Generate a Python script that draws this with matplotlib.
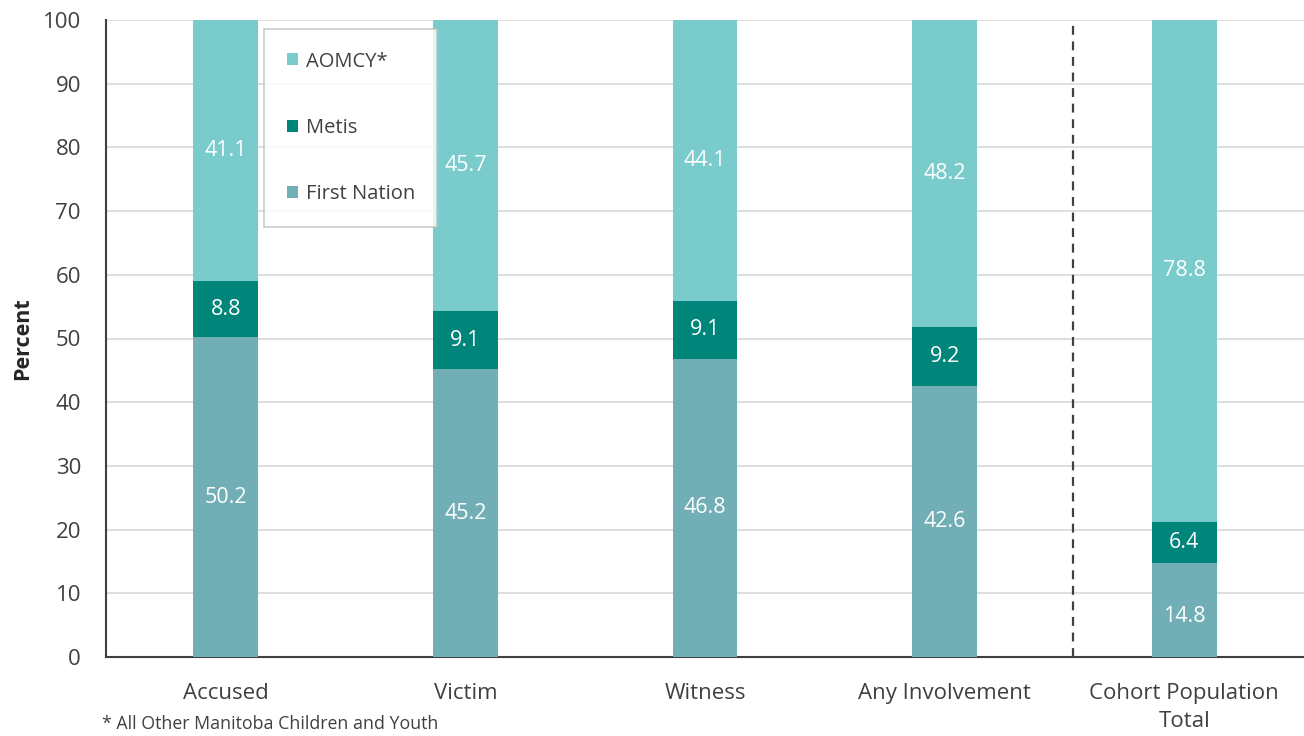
import numpy as np
import matplotlib
matplotlib.use("Agg")
from matplotlib import pyplot as plt

plt.rcParams['font.family'] = ['Open Sans', 'DejaVu Sans']

# categories and stacked shares (percent)
categories = ["Accused", "Victim", "Witness", "Any Involvement", "Cohort Population\nTotal"]
first_nation = [50.2, 45.2, 46.8, 42.6, 14.8]
metis = [8.8, 9.1, 9.1, 9.2, 6.4]
aomcy = [41.1, 45.7, 44.1, 48.2, 78.8]

COL_FN = "#72aeb6"
COL_METIS = "#00857a"
COL_AOMCY = "#7acccc"
TEXT = "#404040"

fig = plt.figure(figsize=(13.04, 7.36), dpi=100)
ax = fig.add_axes([106 / 1304, 1 - 657 / 736, 1 - 106 / 1304, 637 / 736])

x = np.arange(len(categories))
width = 0.27
fn = np.array(first_nation)
me = np.array(metis)
ao = np.array(aomcy)

b1 = ax.bar(x, fn, width, color=COL_FN, label="First Nation", zorder=3)
b2 = ax.bar(x, me, width, bottom=fn, color=COL_METIS, label="Metis", zorder=3)
b3 = ax.bar(x, ao, width, bottom=fn + me, color=COL_AOMCY, label="AOMCY*", zorder=3)

# value labels in each segment
for bars, vals, bottoms in [(b1, fn, np.zeros(len(fn))), (b2, me, fn), (b3, ao, fn + me)]:
    for xi, v, b in zip(x, vals, bottoms):
        y = b + v / 2
        if bars is b1 and v < 20:
            y = b + v / 2 - 1.0
        ax.text(xi, y, f"{v:.1f}", ha="center", va="center", color="white",
                fontsize=15.5, zorder=4)

ax.set_xlim(-0.5, 4.5)
ax.set_ylim(0, 100)
ax.set_yticks(np.arange(0, 101, 10))
ax.set_xticks(x)
ax.set_xticklabels(categories, linespacing=1.4)
ax.tick_params(axis="both", length=0, labelsize=16, colors=TEXT)
ax.tick_params(axis="x", pad=19)
ax.tick_params(axis="y", pad=18)
ax.grid(axis="y", color="#d9d9d9", linewidth=1.2, zorder=0)
ax.set_axisbelow(True)

for side in ["top", "right"]:
    ax.spines[side].set_visible(False)
for side in ["left", "bottom"]:
    ax.spines[side].set_color("#404040")
    ax.spines[side].set_linewidth(1.5)

ax.set_ylabel("Percent", fontsize=15.5, fontweight="bold", color="#262626", labelpad=7)

# divider before the population total
ax.axvline(3.535, color="#404040", linestyle=(0, (4, 3)), linewidth=1.6, zorder=2)

handles = [b3, b2, b1]
leg = ax.legend(handles, [h.get_label() for h in handles], loc="upper left",
                bbox_to_anchor=(158 / 1198, 1 - 9 / 637), fontsize=14.5,
                frameon=True, fancybox=False, handlelength=0.55, handleheight=0.55,
                handletextpad=0.4, labelspacing=2.3, borderpad=1.12, borderaxespad=0)
leg.get_frame().set_edgecolor("#bfbfbf")
leg.get_frame().set_linewidth(1.2)
for t in leg.get_texts():
    t.set_color(TEXT)

fig.text(102 / 1304, 1 - 729 / 736, "* All Other Manitoba Children and Youth",
         fontsize=12.8, color=TEXT, ha="left", va="baseline")

fig.savefig("out.png", dpi=100)
